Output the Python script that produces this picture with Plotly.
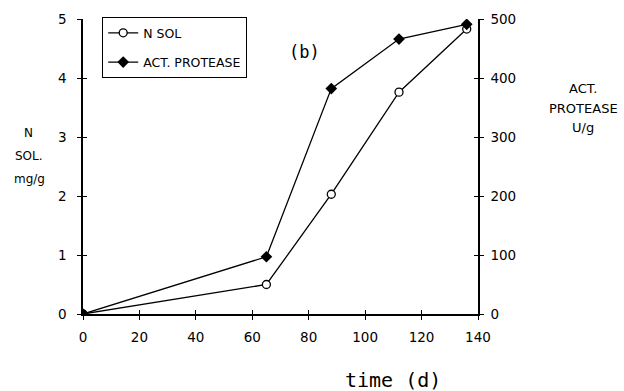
import plotly.graph_objects as go

time_d = [0, 65, 88, 112, 136]
n_sol = [0, 0.5, 2.03, 3.76, 4.83]
protease = [0, 97, 382, 466, 491]

x_ticks = [0, 20, 40, 60, 80, 100, 120, 140]
y_ticks = [0, 1, 2, 3, 4, 5]
y2_ticks = [0, 100, 200, 300, 400, 500]

FONT = "DejaVu Sans"
MONO = "DejaVu Sans Mono"

W, H = 624, 391
L, R, T, B = 83, 146, 19, 77
PW, PH = W - L - R, H - T - B


def px(x, y):
    return (x - L) / PW, (H - B - y) / PH


fig = go.Figure()
fig.add_trace(go.Scatter(
    x=time_d, y=n_sol, name="N SOL", mode="lines+markers", legendgroup="a",
    line=dict(color="black", width=1.3),
    marker=dict(symbol="circle", size=8, color="white", line=dict(color="black", width=1.3)),
))
fig.add_trace(go.Scatter(
    x=time_d, y=protease, name="ACT. PROTEASE", mode="lines+markers", yaxis="y2",
    legendgroup="b",
    line=dict(color="black", width=1.3),
    marker=dict(symbol="diamond", size=9, color="black"),
))

tickfont = dict(family=FONT, size=13.5, color="black")
axis_common = dict(showgrid=False, zeroline=False, showline=True, linecolor="black",
                   linewidth=1.5, ticks="outside", ticklen=4, tickwidth=1.2, tickcolor="black",
                   tickfont=tickfont)
inner = dict(showgrid=False, zeroline=False, showline=False, ticks="inside", ticklen=4,
             tickwidth=1.2, tickcolor="black", showticklabels=False)

ann = []


def add_text(text, x, y, size, family=FONT):
    xp, yp = px(x, y)
    ann.append(dict(text=text, x=xp, y=yp, xref="paper", yref="paper", showarrow=False,
                    xanchor="center", yanchor="middle",
                    font=dict(family=family, size=size, color="black")))


add_text("(b)", 304, 52, 17, MONO)
add_text("N", 28, 133, 12)
add_text("SOL.", 29, 156, 12)
add_text("mg/g", 29, 179, 12)
add_text("ACT.", 583, 88, 13)
add_text("PROTEASE", 583, 108, 13)
add_text("U/g", 583, 128, 13)
add_text("time (d)", 393, 380, 20, MONO)

lx, ly = px(102, 17)

fig.update_layout(
    width=W, height=H,
    margin=dict(l=L, r=R, t=T, b=B, autoexpand=False),
    paper_bgcolor="white", plot_bgcolor="white",
    showlegend=True,
    legend=dict(x=lx, y=ly, xanchor="left", yanchor="top",
                bordercolor="black", borderwidth=1.2, bgcolor="white",
                font=dict(family=FONT, size=12.5, color="black"),
                itemwidth=30, tracegroupgap=10),
    xaxis=dict(range=[0, 140], tickvals=x_ticks, ticklabelstandoff=6, **axis_common),
    xaxis2=dict(range=[0, 140], tickvals=x_ticks, overlaying="x", anchor="y", **inner),
    yaxis=dict(range=[0, 5], tickvals=y_ticks, ticklabelstandoff=8, **axis_common),
    yaxis3=dict(range=[0, 5], tickvals=y_ticks, overlaying="y", anchor="x", side="left", **inner),
    yaxis2=dict(range=[0, 500], tickvals=y2_ticks, overlaying="y", side="right",
                ticklabelstandoff=4, anchor="x", **axis_common),
    yaxis4=dict(range=[0, 500], tickvals=y2_ticks, overlaying="y", side="right", anchor="x",
                **inner),
    annotations=ann,
)

# dummy invisible traces to activate the inner-tick overlay axes
fig.add_trace(go.Scatter(x=[None], y=[None], xaxis="x2", yaxis="y3", showlegend=False,
                         hoverinfo="skip"))
fig.add_trace(go.Scatter(x=[None], y=[None], xaxis="x2", yaxis="y4", showlegend=False,
                         hoverinfo="skip"))

fig.write_html("out.html")
